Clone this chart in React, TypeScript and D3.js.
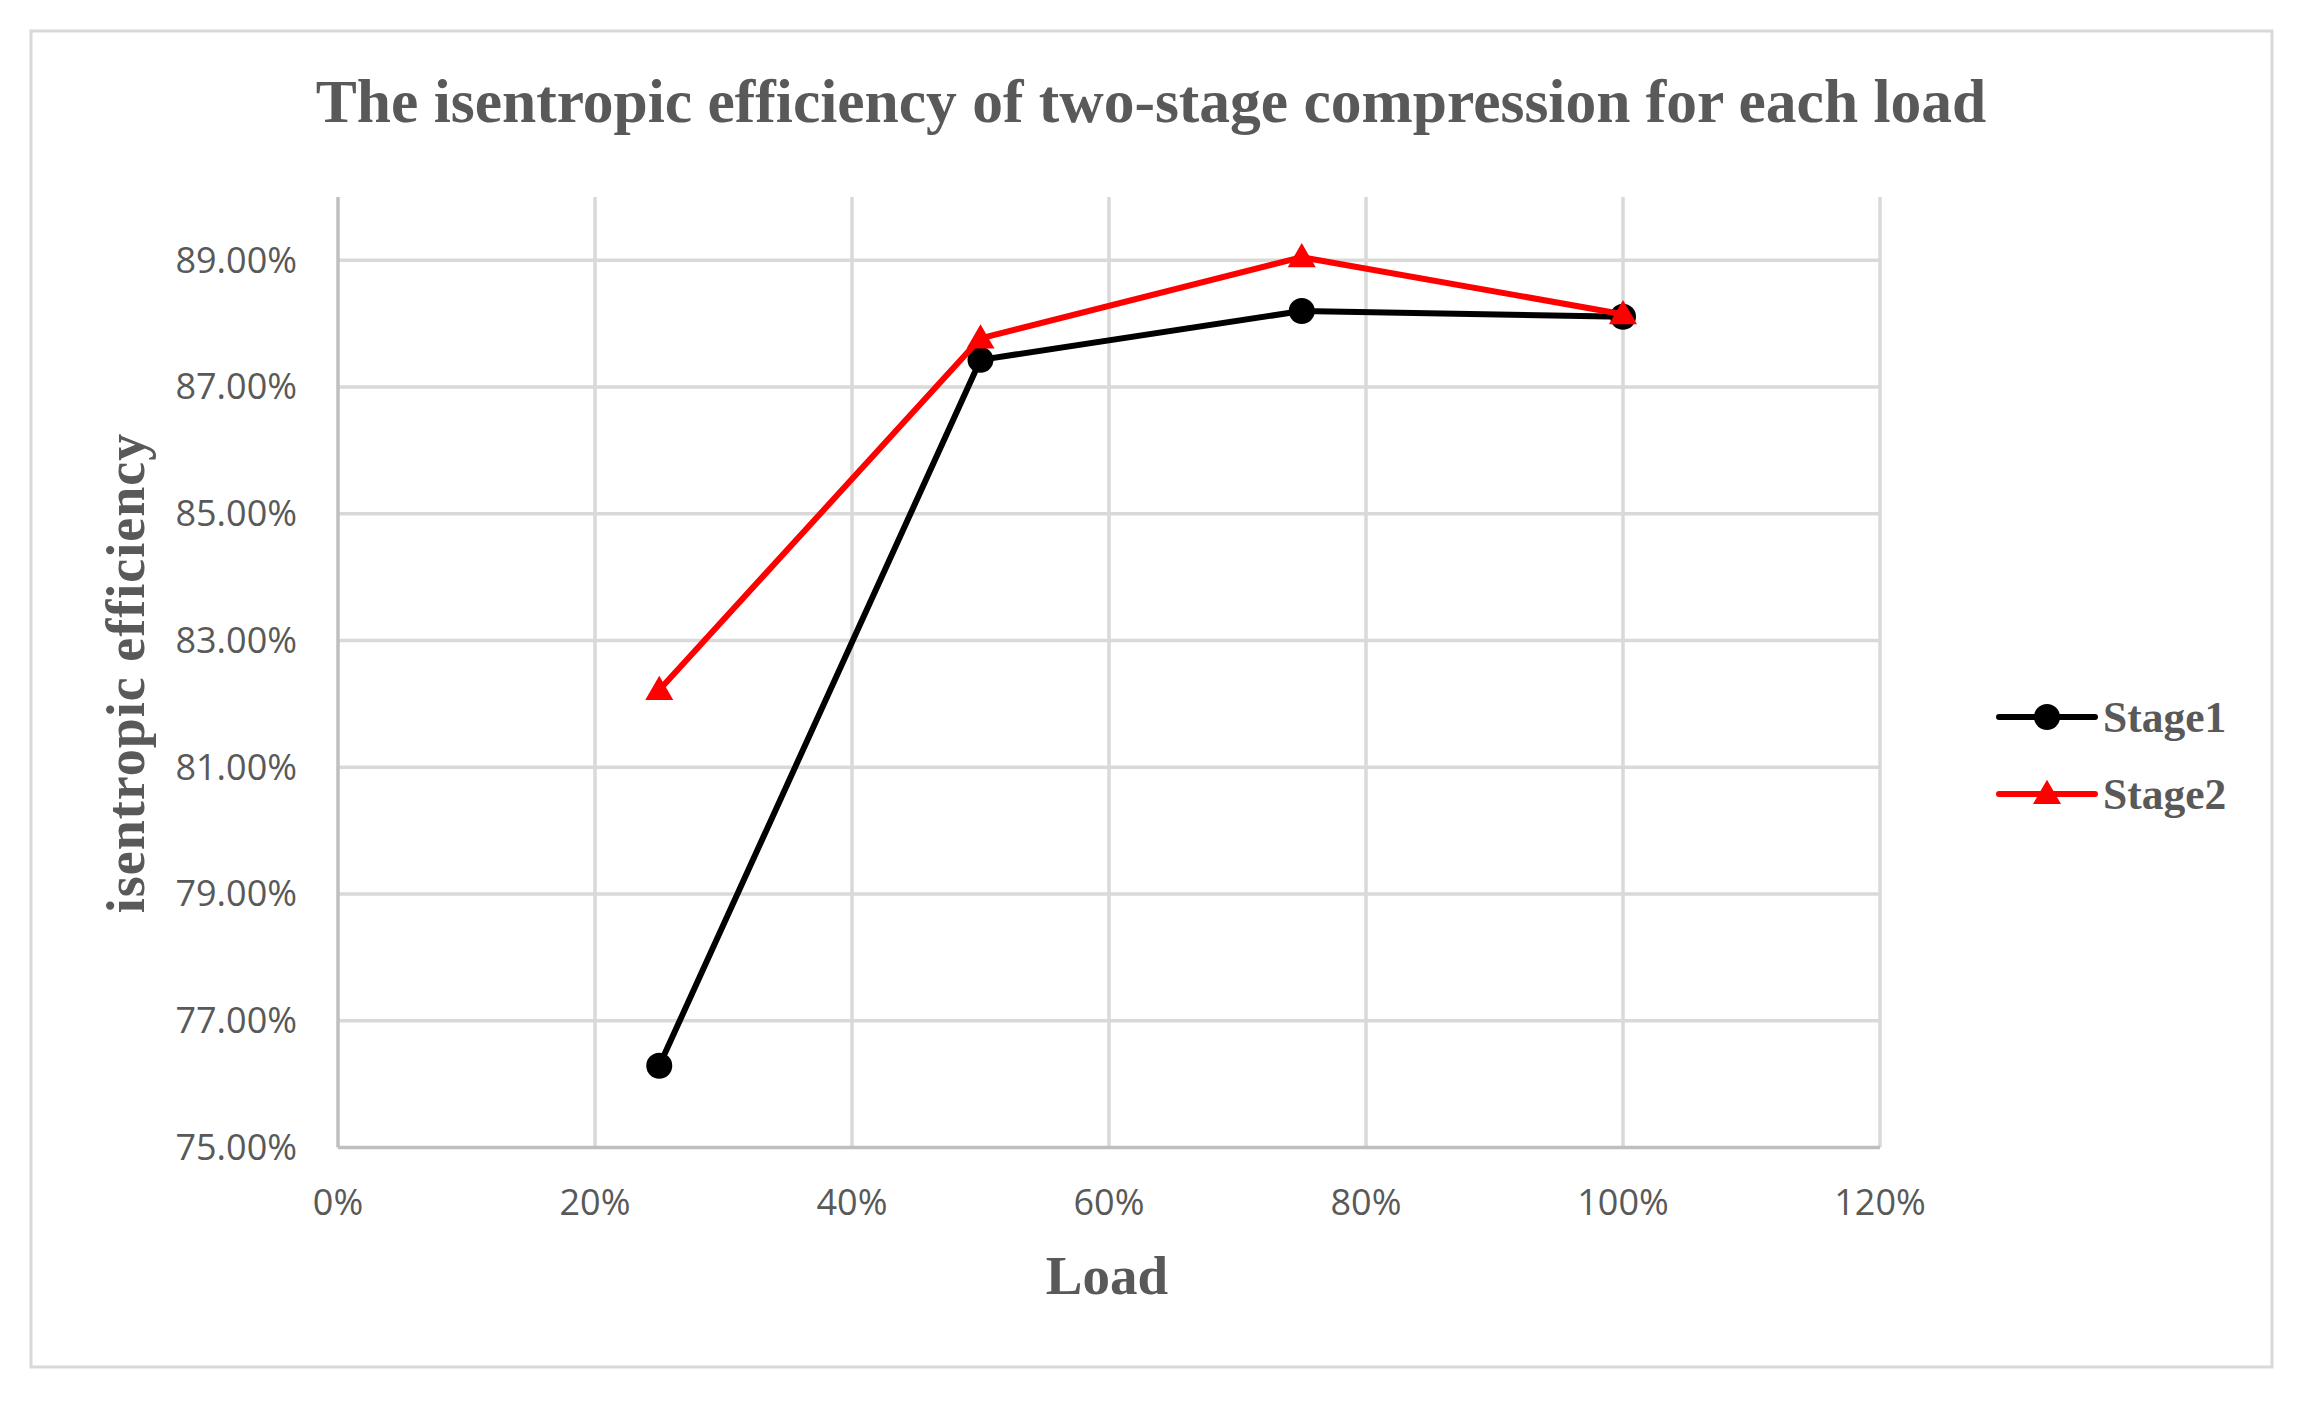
import React from "react";
import * as d3 from "d3";

const title = "The isentropic efficiency of two-stage compression for each load";
const xTitle = "Load";
const yTitle = "isentropic efficiency";
const loads = [0.25, 0.5, 0.75, 1.0];
const stage1 = [0.7629, 0.8743, 0.882, 0.8811];
const stage2 = [0.8222, 0.8777, 0.8905, 0.8815];
const xTicks = [0, 0.2, 0.4, 0.6, 0.8, 1.0, 1.2];
const yTicks = [0.75, 0.77, 0.79, 0.81, 0.83, 0.85, 0.87, 0.89];
const seriesNames = ["Stage1", "Stage2"];

const W = 2300;
const H = 1402;
const TXT = "#595959";
const SERIF = "'Liberation Serif', 'Times New Roman', serif";
const SANS = "'Open Sans', 'Liberation Sans', sans-serif";

export default function App() {
  const x = d3.scaleLinear().domain([0, 1.2]).range([338, 1880]);
  const y = d3.scaleLinear().domain([0.75, 0.9]).range([1147.5, 197]);
  const line = d3
    .line<number>()
    .x((_, i) => x(loads[i]))
    .y((d) => y(d));
  const tri = d3.symbol().type(d3.symbolTriangle).size(340)() as string;
  const series = [
    { name: seriesNames[0], values: stage1, color: "#000000", marker: "circle" },
    { name: seriesNames[1], values: stage2, color: "#ff0000", marker: "triangle" },
  ];
  const marker = (kind: string, cx: number, cy: number, color: string, key: string) =>
    kind === "circle" ? (
      <circle key={key} cx={cx} cy={cy} r={13} fill={color} />
    ) : (
      <path key={key} d={tri} transform={`translate(${cx},${cy + 2})`} fill={color} />
    );

  return (
    <svg
      width={W}
      height={H}
      style={{ position: "absolute", left: 0, top: 0, background: "#fff" }}
    >
      <rect x={0} y={0} width={W} height={H} fill="#fff" />
      <rect x={31} y={31} width={2241} height={1336} fill="#fff" stroke="#d9d9d9" strokeWidth={3} />
      <text
        x={1151}
        y={122}
        textAnchor="middle"
        fontFamily={SERIF}
        fontWeight="bold"
        fontSize={61.5}
        fill={TXT}
      >
        {title}
      </text>
      {/* gridlines */}
      {yTicks.slice(1).map((t) => (
        <line key={"gy" + t} x1={x(0)} x2={x(1.2)} y1={y(t)} y2={y(t)} stroke="#d9d9d9" strokeWidth={3.5} />
      ))}
      {xTicks.slice(1).map((t) => (
        <line key={"gx" + t} x1={x(t)} x2={x(t)} y1={y(0.9)} y2={y(0.75)} stroke="#d9d9d9" strokeWidth={3.5} />
      ))}
      {/* axes */}
      <line x1={x(0)} x2={x(0)} y1={y(0.9)} y2={y(0.75)} stroke="#bfbfbf" strokeWidth={3.5} />
      <line x1={x(0)} x2={x(1.2)} y1={y(0.75)} y2={y(0.75)} stroke="#bfbfbf" strokeWidth={3.5} />
      {/* tick labels */}
      {yTicks.map((t) => (
        <text
          key={"ty" + t}
          x={297}
          y={y(t)}
          dy="0.34em"
          textAnchor="end"
          fontFamily={SANS}
          fontSize={36}
          fill={TXT}
        >
          {d3.format(".2%")(t)}
        </text>
      ))}
      {xTicks.map((t) => (
        <text
          key={"tx" + t}
          x={x(t)}
          y={1215}
          textAnchor="middle"
          fontFamily={SANS}
          fontSize={36}
          fill={TXT}
        >
          {d3.format(".0%")(t)}
        </text>
      ))}
      {/* axis titles */}
      <text
        x={1107}
        y={1294}
        textAnchor="middle"
        fontFamily={SERIF}
        fontWeight="bold"
        fontSize={55}
        fill={TXT}
      >
        {xTitle}
      </text>
      <text
        transform="translate(144,673) rotate(-90)"
        textAnchor="middle"
        fontFamily={SERIF}
        fontWeight="bold"
        fontSize={54}
        letterSpacing={1}
        fill={TXT}
      >
        {yTitle}
      </text>
      {/* series */}
      {series.map((s) => (
        <g key={s.name}>
          <path d={line(s.values) as string} fill="none" stroke={s.color} strokeWidth={6} strokeLinejoin="round" />
          {s.values.map((v, i) => marker(s.marker, x(loads[i]), y(v), s.color, s.name + i))}
        </g>
      ))}
      {/* legend */}
      {series.map((s, i) => {
        const ly = 717 + i * 77;
        return (
          <g key={"lg" + s.name}>
            <line x1={1999} x2={2095} y1={ly} y2={ly} stroke={s.color} strokeWidth={6} strokeLinecap="round" />
            {marker(s.marker, 2047, ly, s.color, "lm" + i)}
            <text
              x={2103}
              y={ly + 15}
              fontFamily={SERIF}
              fontWeight="bold"
              fontSize={43.5}
              fill={TXT}
            >
              {s.name}
            </text>
          </g>
        );
      })}
    </svg>
  );
}
